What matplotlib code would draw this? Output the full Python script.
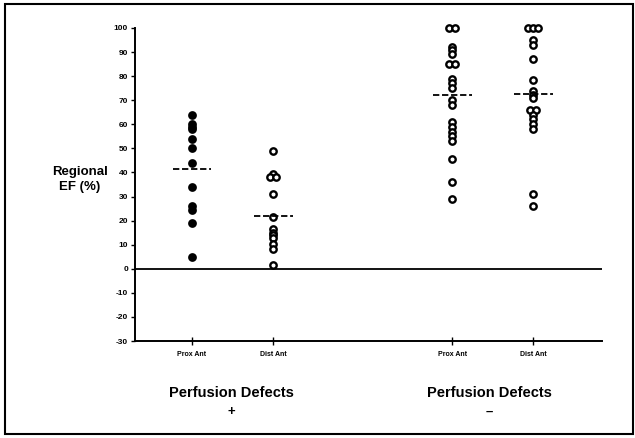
#!/usr/bin/env python

import numpy as np
import matplotlib
matplotlib.use('Agg')
import matplotlib.pyplot as plt
from matplotlib.patches import Rectangle

#regional EF values, one list per column
prox_pos = [64, 60, 59, 58, 54, 50, 44, 34, 26, 24.5, 19, 5]
dist_pos = [49, 39.5, 38, 38, 31, 21.7, 16.5, 15, 14, 12.7, 10.4, 8.3, 1.7]
prox_neg = [100, 100, 92, 91, 89, 85, 85, 78.7, 77, 75, 70, 68,
            61, 59, 57, 55, 53, 45.5, 36, 29]
dist_neg = [100, 100, 100, 95, 93, 87, 78.5, 74, 72, 71, 66, 66,
            64, 62, 60, 58, 31, 26]
means = [41.5, 22, 72.2, 72.5]

columns = [prox_pos, dist_pos, prox_neg, dist_neg]
tick_labels = ['Prox Ant', 'Dist Ant', 'Prox Ant', 'Dist Ant']
group_labels = ['Perfusion Defects', 'Perfusion Defects']
group_signs = ['+', '\u2013']
yticks = list(range(-30, 101, 10))

plt.rcParams['font.family'] = ['Liberation Sans', 'DejaVu Sans']
plt.rcParams['font.weight'] = 'bold'

fig = plt.figure(figsize=(6.35, 4.38), dpi=100)
fig.patch.set_facecolor('white')
ax = fig.add_axes([135/635, 1-341/438, (602-135)/635, (341-28)/438])

xpos = [1, 2, 4.21, 5.21]
filled = [True, False, False, False]

for x, vals, m, f in zip(xpos, columns, means, filled):
    vals = np.array(vals, dtype=float)
    # nudge points that sit on top of each other a little sideways
    xs = np.full(len(vals), float(x))
    for v in np.unique(vals):
        idx = np.where(vals == v)[0]
        if len(idx) > 1:
            xs[idx] = x + (np.arange(len(idx)) - (len(idx)-1)/2) * 0.065
    ax.plot(xs, vals, 'o', ms=4.6, mec='black', mew=1.7,
            mfc='black' if f else 'white', ls='none', zorder=3,
            clip_on=False)
    ax.plot([x-0.24, x+0.24], [m, m], color='black', lw=1.3,
            ls=(0, (3.5, 1.5)), zorder=4)

ax.axhline(0, color='black', lw=1.3, zorder=2)

ax.set_xlim(0.296, 6.06)
ax.set_ylim(-30, 100)
ax.spines['top'].set_visible(False)
ax.spines['right'].set_visible(False)
ax.spines['left'].set_linewidth(1.4)
ax.spines['bottom'].set_linewidth(1.4)

ax.set_yticks(yticks)
ax.set_yticklabels([str(t) for t in yticks], fontsize=6, fontweight='heavy')
ax.tick_params(axis='y', direction='out', length=3, width=1, pad=2)

ax.set_xticks(xpos)
ax.set_xticklabels(tick_labels, fontsize=5, fontweight='heavy')
ax.tick_params(axis='x', direction='inout', length=6, width=1, pad=4)

fig.text(80/635, 1-172/438, 'Regional', ha='center', va='center',
         fontsize=9.5, fontweight='heavy')
fig.text(80/635, 1-187/438, 'EF (%)', ha='center', va='center',
         fontsize=9.5, fontweight='heavy')

for cx, lab, sgn in zip([231, 489], group_labels, group_signs):
    fig.text(cx/635, 1-393/438, lab, ha='center', va='center',
             fontsize=10.5, fontweight='heavy')
    fig.text(cx/635, 1-412/438, sgn, ha='center', va='center',
             fontsize=9.5, fontweight='heavy')

fig.patches.append(Rectangle((5/635, 4/438), 628/635, 430/438,
                             transform=fig.transFigure, fill=False,
                             edgecolor='black', lw=1.5))

fig.savefig('out.png', dpi=100)
